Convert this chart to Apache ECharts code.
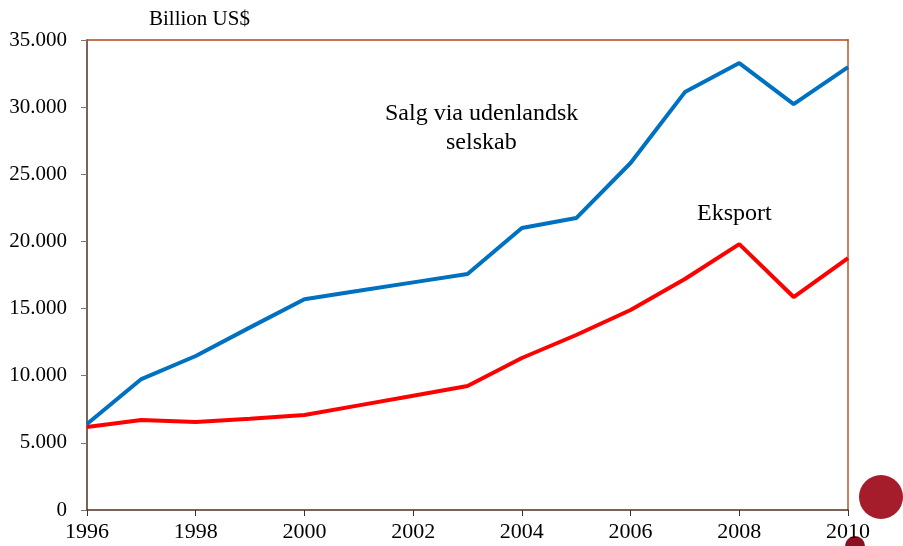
<!DOCTYPE html>
<html lang="da" style="height: 100%">
<head>
    <meta charset="utf-8" />
    <script src="https://cdn.jsdelivr.net/npm/echarts@6/dist/echarts.min.js"></script>
</head>
<body style="height: 100%; margin: 0; background: #fff">
    <div id="container" style="width: 903px;height: 546px;"></div>
    <script type="text/javascript">
        var dom = document.getElementById('container');
        var myChart = echarts.init(dom, null, { renderer: 'canvas' });

        // data (billion US$)
        const years = ['1996', '1997', '1998', '1999', '2000', '2001', '2002', '2003',
            '2004', '2005', '2006', '2007', '2008', '2009', '2010'];
        const salgUdenlandsk = [6400, 9750, 11470, 13600, 15700, 16320, 16950, 17570,
            21000, 21740, 25840, 31120, 33280, 30230, 32980];
        const eksport = [6180, 6700, 6550, 6800, 7070, 7790, 8510, 9230,
            11320, 13030, 14890, 17200, 19800, 15860, 18760];
        const yTicks = [0, 5000, 10000, 15000, 20000, 25000, 30000, 35000];

        const serif = 'Liberation Serif';

        function fmtDk(v) {
            if (v === 0) return '0';
            let s = String(v);
            return s.slice(0, s.length - 3) + '.' + s.slice(-3);
        }

        var option = {
            backgroundColor: '#ffffff',
            animation: false,
            grid: {
                left: 87,
                right: 55,
                top: 40,
                bottom: 36
            },
            xAxis: [{
                    type: 'category',
                    data: years,
                    boundaryGap: false,
                    position: 'bottom',
                    axisLine: { onZero: false, lineStyle: { color: '#4e3020', width: 1.5 } },
                    axisTick: { show: true, length: 6, interval: 1, lineStyle: { color: '#333' } },
                    axisLabel: {
                        interval: 1,
                        margin: 11,
                        color: '#000',
                        fontFamily: serif,
                        fontSize: 22
                    },
                    splitLine: { show: false }
                },
                {
                    type: 'category',
                    data: years,
                    boundaryGap: false,
                    position: 'top',
                    axisLine: { show: true, onZero: false, lineStyle: { color: '#b5451f', width: 1.5 } },
                    axisTick: { show: false },
                    axisLabel: { show: false }
                }
            ],
            yAxis: [{
                    type: 'value',
                    min: yTicks[0],
                    max: yTicks[yTicks.length - 1],
                    interval: 5000,
                    position: 'left',
                    axisLine: { show: true, onZero: false, lineStyle: { color: '#4e3020', width: 1.5 } },
                    axisTick: { show: true, length: 6, lineStyle: { color: '#777' } },
                    axisLabel: {
                        margin: 20,
                        color: '#000',
                        fontFamily: serif,
                        fontSize: 21,
                        formatter: fmtDk
                    },
                    splitLine: { show: false }
                },
                {
                    type: 'value',
                    min: 0,
                    max: 35000,
                    interval: 5000,
                    position: 'right',
                    axisLine: { show: true, onZero: false, lineStyle: { color: '#c4825e', width: 2 } },
                    axisTick: { show: false },
                    axisLabel: { show: false },
                    splitLine: { show: false }
                }
            ],
            series: [{
                    name: 'Salg via udenlandsk selskab',
                    type: 'line',
                    data: salgUdenlandsk,
                    symbol: 'none',
                    lineStyle: { color: '#0070c0', width: 4 }
                },
                {
                    name: 'Eksport',
                    type: 'line',
                    data: eksport,
                    symbol: 'none',
                    lineStyle: { color: '#ff0000', width: 4 }
                }
            ],
            graphic: [{
                    type: 'text',
                    left: 149,
                    top: 9,
                    style: {
                        text: 'Billion US$',
                        font: '21px "Liberation Serif"',
                        fill: '#000'
                    }
                },
                {
                    type: 'text',
                    left: 385,
                    top: 102,
                    style: {
                        text: 'Salg via udenlandsk',
                        font: '24px "Liberation Serif"',
                        fill: '#000'
                    }
                },
                {
                    type: 'text',
                    left: 446,
                    top: 131,
                    style: {
                        text: 'selskab',
                        font: '24px "Liberation Serif"',
                        fill: '#000'
                    }
                },
                {
                    type: 'text',
                    left: 697,
                    top: 202,
                    style: {
                        text: 'Eksport',
                        font: '24px "Liberation Serif"',
                        fill: '#000'
                    }
                },
                {
                    type: 'circle',
                    shape: { cx: 881, cy: 497, r: 22 },
                    style: { fill: '#a51c2b' }
                },
                {
                    type: 'circle',
                    shape: { cx: 855, cy: 546, r: 10 },
                    style: { fill: '#8b1020' }
                }
            ]
        };

        if (option && typeof option === 'object') {
            myChart.setOption(option);
        }

        window.addEventListener('resize', myChart.resize);
    </script>
</body>
</html>
